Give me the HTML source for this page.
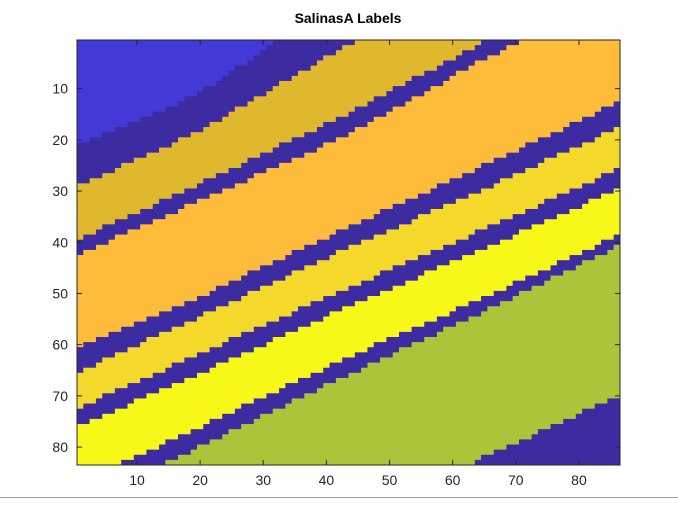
<!DOCTYPE html>
<html><head><meta charset="utf-8"><style>
body{margin:0;background:#fff;width:678px;height:527px;overflow:hidden}
svg{font-family:"Liberation Sans",Arial,sans-serif}
</style></head><body>
<svg id="chart" width="678" height="527">
<text x="348" y="23" text-anchor="middle" font-size="14" font-weight="bold" fill="#000">SalinasA Labels</text>
<g id="img"></g>
<g id="axes"></g>
<line x1="0" y1="497.5" x2="678" y2="497.5" stroke="#a0a0a0" stroke-width="1"/>
</svg>
<script>
const nRows = 83;
const nCols = 86;
const controlCols = [0, 19, 43, 65, 86];
// boundary rows at each control column (one array per control column, one entry per boundary)
const boundaryAtCol0  = [20.5, 28.7, 39, 42, 60, 64.9, 71.9, 75.5, 86.8, 91, 118];
const boundaryAtCol19 = [10.7, 18, 28.3, 31.6, 50.4, 54.3, 61.5, 65.4, 75.8, 79.7, 107];
const boundaryAtCol43 = [-9, 1, 14.3, 18.5, 36.5, 40.6, 48.4, 52, 61.9, 65.4, 93.6];
const boundaryAtCol65 = [-25, -12, 0, 3.4, 24.2, 28.8, 36.7, 40.5, 50, 52.7, 81.2];
const boundaryAtCol86 = [-40, -25, -12, -9, 12, 17, 25, 29, 38, 40, 69.3];
const bandClasses = ['L','D','G','D','O','D','Y1','D','Y','D','Gr','D'];
const classColors = {L:'#4339d6',D:'#3d2ba2',G:'#e0b82e',O:'#fdbd3a',Y1:'#f4d92a',Y:'#f8f818',Gr:'#aac53a'};
const xTicks = [10,20,30,40,50,60,70,80];
const yTicks = [10,20,30,40,50,60,70,80];

const L=77, R=620, T=40, B=465;
const cw=(R-L)/nCols, rh=(B-T)/nRows;
const xPix = c => L + c*cw;
const yPix = r => T + r*rh;
const ns='http://www.w3.org/2000/svg';
const img=document.getElementById('img');
const tables=[boundaryAtCol0,boundaryAtCol19,boundaryAtCol43,boundaryAtCol65,boundaryAtCol86];
function boundaryRow(b,c){
  let k=0; while(k<controlCols.length-2 && c>controlCols[k+1]) k++;
  const c0=controlCols[k], c1=controlCols[k+1];
  const t=(c-c0)/(c1-c0);
  return tables[k][b]+(tables[k+1][b]-tables[k][b])*t;
}
function cls(i,j){
  const rc=i+0.5, cc=j+0.5; let k=0;
  for(let b=0;b<boundaryAtCol0.length;b++){
    if(rc>boundaryRow(b,cc)) k=b+1;
  }
  return bandClasses[k];
}
for(let i=0;i<nRows;i++){
  let start=0, cur=cls(i,0);
  for(let j=1;j<=nCols;j++){
    const c = j<nCols?cls(i,j):null;
    if(c!==cur){
      const r=document.createElementNS(ns,'rect');
      r.setAttribute('x',xPix(start));r.setAttribute('y',yPix(i));
      r.setAttribute('width',xPix(j)-xPix(start)+0.4);r.setAttribute('height',rh+0.4);
      r.setAttribute('fill',classColors[cur]);
      
      
      img.appendChild(r);
      start=j;cur=c;
    }
  }
}
const ax=document.getElementById('axes');
function add(tag,attrs,text){const e=document.createElementNS(ns,tag);for(const k in attrs)e.setAttribute(k,attrs[k]);if(text!==undefined)e.textContent=text;ax.appendChild(e);return e;}
const box=add('rect',{x:L,y:T,width:R-L,height:B-T,fill:'none',stroke:'#262626','stroke-width':1});


xTicks.forEach(v=>{
  const x=xPix(v-0.5);
  const t1=add('line',{x1:x,y1:B,x2:x,y2:B-5,stroke:'#262626'});
  
  
  const t2=add('line',{x1:x,y1:T,x2:x,y2:T+5,stroke:'#262626'});
  
  
  const lb=add('text',{x:x,y:B+20,'text-anchor':'middle','font-size':14,fill:'#262626'},v);
  
  
});
yTicks.forEach(v=>{
  const y=yPix(v-0.5);
  const t1=add('line',{x1:L,y1:y,x2:L+5,y2:y,stroke:'#262626'});
  
  
  const t2=add('line',{x1:R,y1:y,x2:R-5,y2:y,stroke:'#262626'});
  
  
  const lb=add('text',{x:L-9,y:y+5,'text-anchor':'end','font-size':14,fill:'#262626'},v);
  
  
});
</script>
</body></html>
